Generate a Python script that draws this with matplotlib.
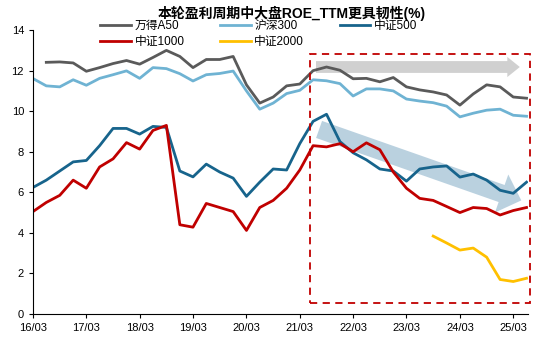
import pandas as pd
import numpy as np
import matplotlib
matplotlib.use("Agg")
import matplotlib.pyplot as plt
from matplotlib.patches import Rectangle

plt.rcParams['font.family'] = ['Liberation Sans', 'Noto Sans CJK SC']

# quarterly points 16/03 .. 25/06
dates = pd.date_range("2016-03-31", periods=38, freq="QE")
nan = np.nan

a50 = [nan, 12.41, 12.43, 12.38, 11.97, 12.15, 12.35, 12.5, 12.32, 12.65,
       13.0, 12.7, 12.15, 12.55, 12.55, 12.7, 11.3, 10.4, 10.7, 11.25,
       11.34, 12.0, 12.18, 12.02, 11.6, 11.62, 11.45, 11.66, 11.2, 11.05,
       10.95, 10.8, 10.3, 10.85, 11.3, 11.2, 10.7, 10.64]
hs300 = [11.61, 11.25, 11.2, 11.55, 11.28, 11.62, 11.8, 11.99, 11.62, 12.15,
         12.1, 11.85, 11.49, 11.8, 11.86, 11.98, 11.0, 10.1, 10.4, 10.87,
         11.03, 11.55, 11.5, 11.36, 10.75, 11.1, 11.1, 11.0, 10.6, 10.5,
         10.42, 10.25, 9.72, 9.9, 10.05, 10.1, 9.8, 9.75]
zz500 = [6.24, 6.6, 7.05, 7.5, 7.57, 8.3, 9.15, 9.15, 8.87, 9.25,
         9.2, 7.05, 6.76, 7.39, 7.0, 6.7, 5.8, 6.5, 7.15, 7.1,
         8.4, 9.5, 9.85, 8.5, 7.95, 7.6, 7.15, 7.05, 6.55, 7.15,
         7.25, 7.3, 6.75, 6.9, 6.6, 6.1, 5.95, 6.5]
zz1000 = [5.05, 5.5, 5.85, 6.6, 6.2, 7.25, 7.65, 8.45, 8.13, 9.05,
          9.3, 4.4, 4.28, 5.45, 5.25, 5.05, 4.12, 5.25, 5.6, 6.2,
          7.1, 8.3, 8.24, 8.4, 8.0, 8.44, 8.1, 7.0, 6.2, 5.7,
          5.6, 5.3, 5.0, 5.25, 5.2, 4.88, 5.1, 5.25]
zz2000 = [nan] * 30 + [3.84, 3.5, 3.15, 3.25, 2.8, 1.7, 1.6, 1.76]

fig = plt.figure(figsize=(5.5, 3.42), dpi=100)
ax = fig.add_axes([0.06, 0.082, 0.9, 0.83])

lw = 2.0
l1, = ax.plot(dates, a50, color="#5a5a5a", lw=lw, label="万得A50")
l2, = ax.plot(dates, hs300, color="#6fb3d3", lw=lw, label="沪深300")
l3, = ax.plot(dates, zz500, color="#17648c", lw=lw, label="中证500")
l4, = ax.plot(dates, zz1000, color="#c00000", lw=lw, label="中证1000")
l5, = ax.plot(dates, zz2000, color="#ffc000", lw=lw, label="中证2000")

ax.set_ylim(0, 14)
ax.set_yticks(range(0, 15, 2))
ax.set_xlim(dates[0], pd.Timestamp("2025-07-10"))
xt = pd.date_range("2016-03-31", "2025-03-31", freq="12ME")
ax.set_xticks(xt)
ax.set_xticklabels([d.strftime("%y/%m") for d in xt])
ax.tick_params(labelsize=8, length=3, width=0.8, direction="out")
for s in ["top", "right"]:
    ax.spines[s].set_visible(False)
ax.spines["left"].set_linewidth(0.8)
ax.spines["bottom"].set_linewidth(0.8)

# highlight box
x0 = pd.Timestamp("2021-06-10")
x1 = pd.Timestamp("2025-07-25")
box = Rectangle((x0, 0.53), x1 - x0, 12.8 - 0.53, fill=False, ec="#c00000",
                ls=(0, (4, 3)), lw=1.3, clip_on=False, zorder=5)
ax.add_patch(box)

# arrows
ax.annotate("", xy=(pd.Timestamp("2025-05-15"), 12.18),
            xytext=(pd.Timestamp("2021-07-20"), 12.18),
            arrowprops=dict(arrowstyle="simple,head_width=1.45,head_length=0.9,tail_width=0.85",
                            mutation_scale=10, color="#d0d0d0", lw=0, shrinkA=0, shrinkB=0),
            zorder=1)
ax.annotate("", xy=(pd.Timestamp("2025-05-25"), 5.6),
            xytext=(pd.Timestamp("2021-08-10"), 9.1),
            arrowprops=dict(arrowstyle="simple,head_width=2.9,head_length=1.5,tail_width=1.3",
                            mutation_scale=10, color="#a9c6d8", alpha=0.8, lw=0,
                            shrinkA=0, shrinkB=0),
            zorder=1)

fig.text(0.53, 0.962, "本轮盈利周期中大盘ROE_TTM更具韧性(%)", ha="center", va="center",
         fontsize=10, fontweight="bold")
fig.legend([l1, l4, l2, l5, l3], ["万得A50", "中证1000", "沪深300", "中证2000", "中证500"],
           loc="upper left", bbox_to_anchor=(0.174, 0.955), ncol=3, frameon=False,
           fontsize=8.5, handlelength=2.6, handletextpad=0.3, columnspacing=3.0,
           labelspacing=0.3, borderaxespad=0)

fig.savefig("out.png", dpi=100)
